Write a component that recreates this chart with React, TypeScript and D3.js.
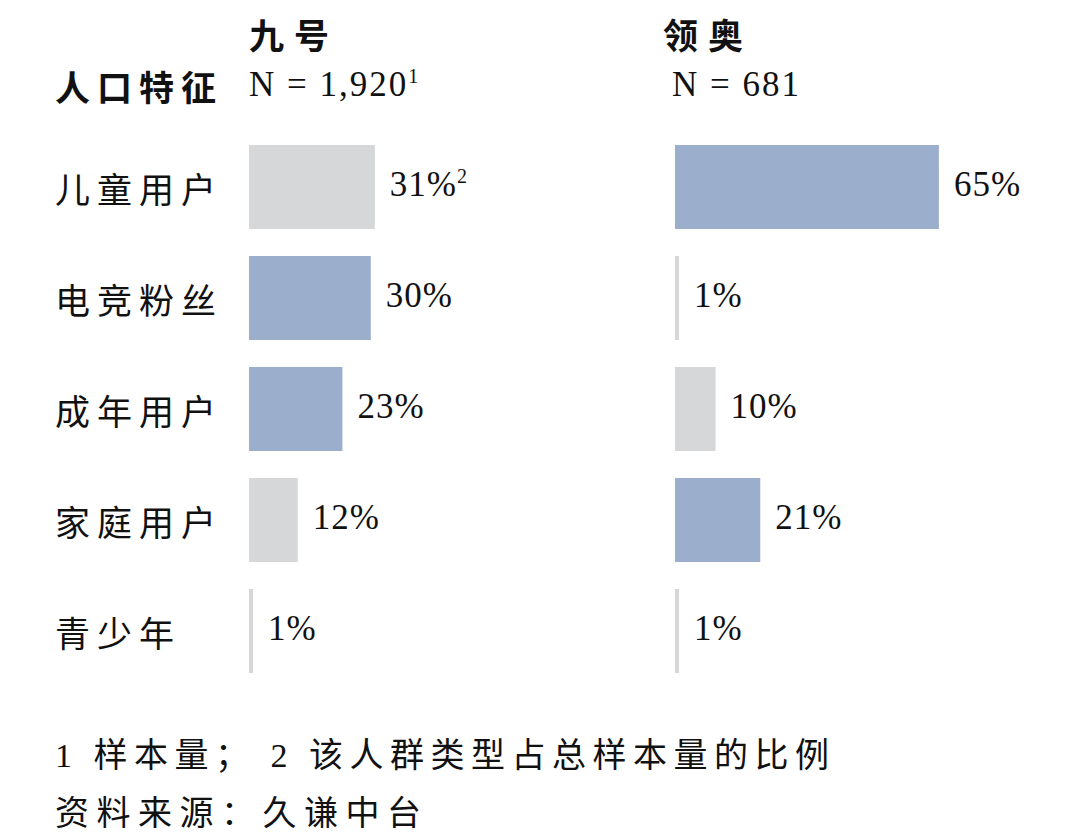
import React from 'react';
import * as d3 from 'd3';

// categories and shares (%)
const categories = ['儿童用户', '电竞粉丝', '成年用户', '家庭用户', '青少年'];
const jiuhaoValues = [31, 30, 23, 12, 1];
const lingaoValues = [65, 1, 10, 21, 1];
const brands = ['九号', '领奥'];
const sampleSizes = ['1,920', '681'];

const BLUE = '#9bafcc';
const GRAY = '#d6d7d9';
const FONT = '"Liberation Serif", "Noto Sans CJK SC", serif';
const CJK = '"Noto Sans CJK SC", sans-serif';

const W = 1080;
const H = 840;

const App: React.FC = () => {
  const y = d3.scaleBand<string>()
    .domain(categories)
    .range([131.5, 686.5])
    .paddingInner(0.243)
    .paddingOuter(0.1215);

  const x = d3.scaleLinear().domain([0, 100]).range([0, 406]);

  const panels = [
    { x0: 249, values: jiuhaoValues, other: lingaoValues, titleX: 249, nX: 249, sup: true },
    { x0: 675, values: lingaoValues, other: jiuhaoValues, titleX: 663, nX: 672, sup: false },
  ];

  return (
    <svg width={W} height={H} style={{ position: 'absolute', left: 0, top: 0, background: '#fff' }}>
      {/* header */}
      <text x={55} y={85} fontFamily={CJK} fontWeight={700} fontSize={35} letterSpacing={7}
        dominantBaseline="central" fill="#111">人口特征</text>
      {panels.map((p, i) => (
        <g key={brands[i]}>
          <text x={p.titleX} y={33} fontFamily={CJK} fontWeight={700} fontSize={35} letterSpacing={10}
            dominantBaseline="central" fill="#111">{brands[i]}</text>
          <text x={p.nX} y={96} fontFamily={FONT} fontSize={35} letterSpacing={2} fill="#111">
            {`N = ${sampleSizes[i]}`}
            {p.sup && <tspan fontSize={20} dy={-13}>1</tspan>}
          </text>
        </g>
      ))}

      {/* category labels */}
      {categories.map(c => (
        <text key={c} x={55} y={(y(c) ?? 0) + y.bandwidth() / 2} fontFamily={CJK} fontSize={35}
          letterSpacing={7} dominantBaseline="central" fill="#111">{c}</text>
      ))}

      {/* bars */}
      {panels.map((p, i) => (
        <g key={'bars' + i} transform={`translate(${p.x0},0)`}>
          {categories.map((c, j) => {
            const v = p.values[j];
            const by = y(c) ?? 0;
            const cy = by + y.bandwidth() / 2;
            return (
              <g key={c}>
                <rect x={0} y={by} width={x(v)} height={y.bandwidth()}
                  fill={v > p.other[j] ? BLUE : GRAY} />
                <text x={x(v) + 15} y={cy + 9} fontFamily={FONT} fontSize={35} letterSpacing={1} fill="#111">
                  {`${v}%`}
                  {p.sup && j === 0 && <tspan fontSize={20} dy={-13}>2</tspan>}
                </text>
              </g>
            );
          })}
        </g>
      ))}

      {/* footnotes */}
      <text x={55} y={755} fontFamily={FONT} fontSize={34} letterSpacing={6.5}
        dominantBaseline="central" fill="#111">1 样本量； 2 该人群类型占总样本量的比例</text>
      <text x={55} y={813} fontFamily={FONT} fontSize={34} letterSpacing={7.5}
        dominantBaseline="central" fill="#111">资料来源：久谦中台</text>
    </svg>
  );
};

export default App;
